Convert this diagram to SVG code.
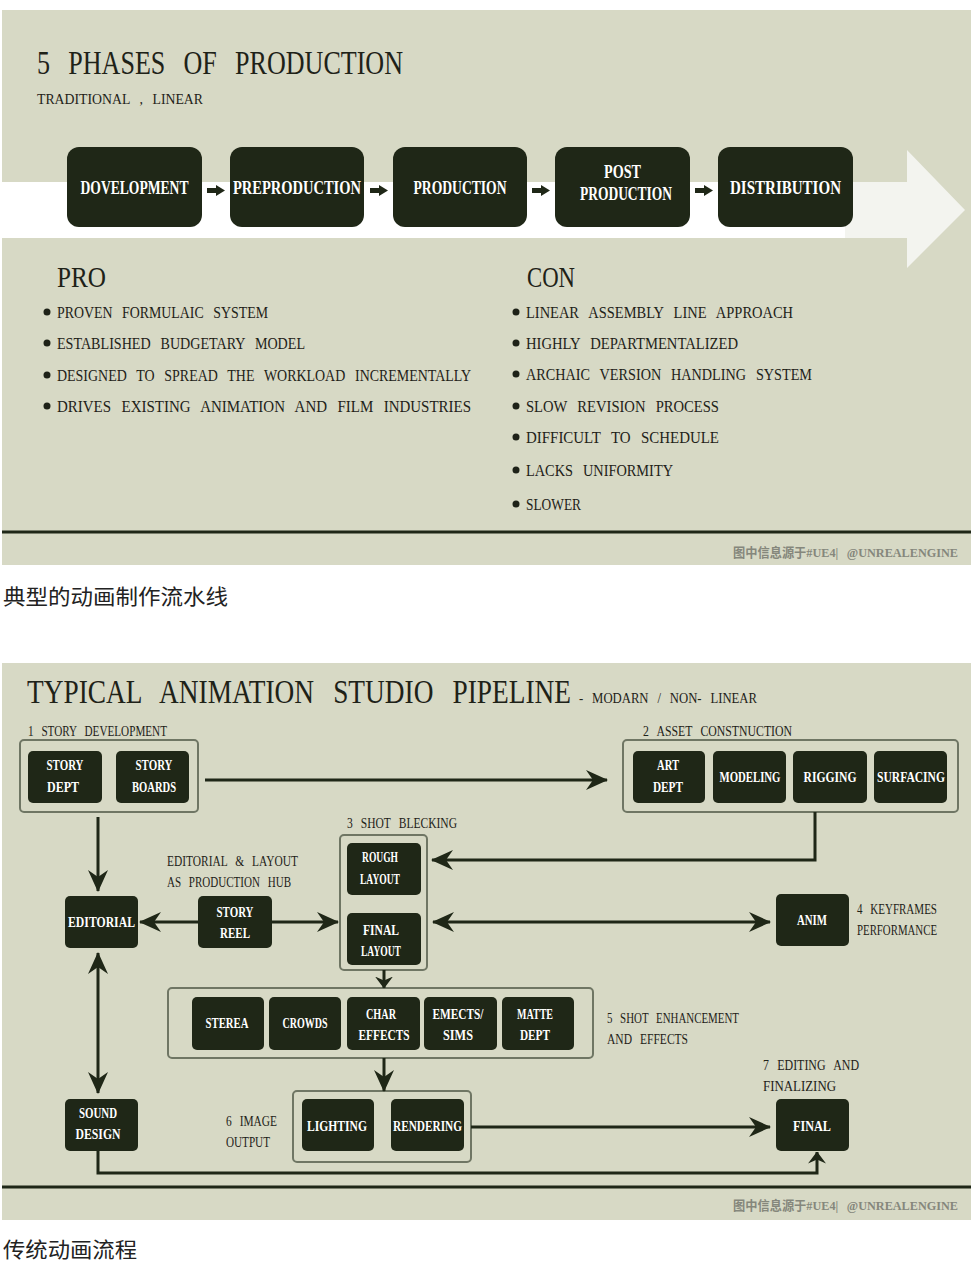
<svg xmlns="http://www.w3.org/2000/svg" width="979" height="1277" viewBox="0 0 979 1277">
<style>
.bg{fill:#d7d9c5}
.box rect{fill:#1f2717}
.nt{fill:#ffffff;font-family:"Liberation Serif","DejaVu Serif",serif;font-weight:bold;text-anchor:middle}
.t1{font-size:19px}
.t2{font-size:15px}
.lbl{fill:#1e2218;font-family:"Liberation Serif","DejaVu Serif",serif;font-size:14px;word-spacing:0.45em}
.item{fill:#1e2218;font-family:"Liberation Serif","DejaVu Serif",serif;font-size:16px;word-spacing:0.45em}
.hd{fill:#1e2218;font-family:"Liberation Serif","DejaVu Serif",serif;font-size:30px}
.title{fill:#1e2218;font-family:"Liberation Serif","DejaVu Serif",serif;font-size:34px;word-spacing:0.45em}
.grp{fill:none;stroke:#6f7664;stroke-width:2}
.conn path{fill:none;stroke:#1f2717;stroke-width:3}
.foot{fill:#85877c;font-family:"Liberation Serif","Noto Sans CJK SC",serif;font-size:13px;font-weight:bold;word-spacing:0.45em}
.cap{fill:#222222;font-family:"Noto Sans CJK SC","Noto Sans",sans-serif;font-size:21px}
.sep{stroke:#1f2717;stroke-width:3}
.dot{fill:#1e2218}
.sa{fill:#1f2717}
</style>
<defs>
<marker id="ah" markerUnits="userSpaceOnUse" markerWidth="22" markerHeight="20" viewBox="0 0 22 20" refX="21" refY="10" orient="auto-start-reverse">
<path d="M0,0 L22,10 L0,20 L7,10 z" fill="#1f2717"/>
</marker>
<marker id="as" markerUnits="userSpaceOnUse" markerWidth="12" markerHeight="18" viewBox="0 0 12 18" refX="11.5" refY="9" orient="auto-start-reverse">
<path d="M0,0 L12,9 L0,18 L4,9 z" fill="#1f2717"/>
</marker>
</defs>
<rect width="979" height="1277" fill="#ffffff"/>

<!-- ===== Top panel ===== -->
<rect class="bg" x="2" y="10" width="969" height="555"/>
<text class="title" x="37" y="74" textLength="366" lengthAdjust="spacingAndGlyphs">5 PHASES OF PRODUCTION</text>
<text class="lbl" x="37" y="104" style="font-size:15px" textLength="166" lengthAdjust="spacingAndGlyphs">TRADITIONAL , LINEAR</text>

<g id="band">
<rect x="2" y="182" width="845" height="56" fill="#ffffff"/>
<polygon points="845,182 907,182 907,150 965,210 907,268 907,238 845,238" fill="#f3f4ef"/>
</g>

<g id="phase-arrows">
<path class="sa" d="M207,188 H216 V185 L225,190.5 L216,196 V193 H207 Z"/>
<path class="sa" d="M370,188 H379 V185 L388,190.5 L379,196 V193 H370 Z"/>
<path class="sa" d="M532,188 H541 V185 L550,190.5 L541,196 V193 H532 Z"/>
<path class="sa" d="M695,188 H704 V185 L713,190.5 L704,196 V193 H695 Z"/>
</g>

<g id="p-development" class="box"><rect x="67" y="147" width="135" height="80" rx="12"/>
<text class="nt t1" x="134.5" y="194" textLength="108" lengthAdjust="spacingAndGlyphs">DOVELOPMENT</text></g>
<g id="p-preproduction" class="box"><rect x="230" y="147" width="134" height="80" rx="12"/>
<text class="nt t1" x="297" y="194" textLength="128" lengthAdjust="spacingAndGlyphs">PREPRODUCTION</text></g>
<g id="p-production" class="box"><rect x="393" y="147" width="134" height="80" rx="12"/>
<text class="nt t1" x="460" y="194" textLength="93" lengthAdjust="spacingAndGlyphs">PRODUCTION</text></g>
<g id="p-post" class="box"><rect x="555" y="147" width="135" height="80" rx="12"/>
<text class="nt t1" x="622.5" y="178" textLength="37" lengthAdjust="spacingAndGlyphs">POST</text>
<text class="nt t1" x="626" y="200" textLength="92" lengthAdjust="spacingAndGlyphs">PRODUCTION</text></g>
<g id="p-distribution" class="box"><rect x="718" y="147" width="135" height="80" rx="12"/>
<text class="nt t1" x="785.5" y="194" textLength="111" lengthAdjust="spacingAndGlyphs">DISTRIBUTION</text></g>

<g id="pro">
<text class="hd" x="57" y="287" textLength="49" lengthAdjust="spacingAndGlyphs">PRO</text>
<circle class="dot" cx="47" cy="312" r="3.5"/><text class="item" x="57" y="318" textLength="211" lengthAdjust="spacingAndGlyphs">PROVEN FORMULAIC SYSTEM</text>
<circle class="dot" cx="47" cy="343" r="3.5"/><text class="item" x="57" y="349" textLength="248" lengthAdjust="spacingAndGlyphs">ESTABLISHED BUDGETARY MODEL</text>
<circle class="dot" cx="47" cy="375" r="3.5"/><text class="item" x="57" y="381" textLength="414" lengthAdjust="spacingAndGlyphs">DESIGNED TO SPREAD THE WORKLOAD INCREMENTALLY</text>
<circle class="dot" cx="47" cy="406" r="3.5"/><text class="item" x="57" y="412" textLength="414" lengthAdjust="spacingAndGlyphs">DRIVES EXISTING ANIMATION AND FILM INDUSTRIES</text>
</g>

<g id="con">
<text class="hd" x="527" y="287" textLength="48" lengthAdjust="spacingAndGlyphs">CON</text>
<circle class="dot" cx="516" cy="312" r="3.5"/><text class="item" x="526" y="318" textLength="267" lengthAdjust="spacingAndGlyphs">LINEAR ASSEMBLY LINE APPROACH</text>
<circle class="dot" cx="516" cy="343" r="3.5"/><text class="item" x="526" y="349" textLength="212" lengthAdjust="spacingAndGlyphs">HIGHLY DEPARTMENTALIZED</text>
<circle class="dot" cx="516" cy="374" r="3.5"/><text class="item" x="526" y="380" textLength="286" lengthAdjust="spacingAndGlyphs">ARCHAIC VERSION HANDLING SYSTEM</text>
<circle class="dot" cx="516" cy="406" r="3.5"/><text class="item" x="526" y="412" textLength="193" lengthAdjust="spacingAndGlyphs">SLOW REVISION PROCESS</text>
<circle class="dot" cx="516" cy="437" r="3.5"/><text class="item" x="526" y="443" textLength="193" lengthAdjust="spacingAndGlyphs">DIFFICULT TO SCHEDULE</text>
<circle class="dot" cx="516" cy="470" r="3.5"/><text class="item" x="526" y="476" textLength="147" lengthAdjust="spacingAndGlyphs">LACKS UNIFORMITY</text>
<circle class="dot" cx="516" cy="504" r="3.5"/><text class="item" x="526" y="510" textLength="55" lengthAdjust="spacingAndGlyphs">SLOWER</text>
</g>

<line class="sep" x1="2" y1="532" x2="971" y2="532"/>
<text class="foot" x="733" y="557" textLength="225" lengthAdjust="spacingAndGlyphs">图中信息源于#UE4| @UNREALENGINE</text>

<text class="cap" x="3" y="604" textLength="225" lengthAdjust="spacingAndGlyphs">典型的动画制作流水线</text>

<!-- ===== Bottom panel ===== -->
<rect class="bg" x="2" y="663" width="969" height="557"/>
<text class="title" x="27" y="703" textLength="544" lengthAdjust="spacingAndGlyphs">TYPICAL ANIMATION STUDIO PIPELINE</text>
<text class="lbl" x="579" y="703" style="font-size:15px" textLength="178" lengthAdjust="spacingAndGlyphs">- MODARN / NON- LINEAR</text>

<g id="grp1">
<text class="lbl" x="28" y="736" textLength="139" lengthAdjust="spacingAndGlyphs">1 STORY DEVELOPMENT</text>
<rect class="grp" x="20" y="740" width="178" height="72" rx="4"/>
</g>
<g id="grp2">
<text class="lbl" x="643" y="736" textLength="149" lengthAdjust="spacingAndGlyphs">2 ASSET CONSTNUCTION</text>
<rect class="grp" x="623" y="740" width="335" height="72" rx="4"/>
</g>
<g id="grp3">
<text class="lbl" x="347" y="828" textLength="110" lengthAdjust="spacingAndGlyphs">3 SHOT BLECKING</text>
<rect class="grp" x="340" y="835" width="87" height="135" rx="4"/>
</g>
<g id="grp5">
<rect class="grp" x="168" y="988" width="425" height="70" rx="4"/>
<text class="lbl" x="607" y="1023" textLength="132" lengthAdjust="spacingAndGlyphs">5 SHOT ENHANCEMENT</text>
<text class="lbl" x="607" y="1044" textLength="81" lengthAdjust="spacingAndGlyphs">AND EFFECTS</text>
</g>
<g id="grp6">
<rect class="grp" x="293" y="1091" width="178" height="71" rx="4"/>
<text class="lbl" x="226" y="1126" textLength="51" lengthAdjust="spacingAndGlyphs">6 IMAGE</text>
<text class="lbl" x="226" y="1147" textLength="44" lengthAdjust="spacingAndGlyphs">OUTPUT</text>
</g>
<g id="lbl-hub">
<text class="lbl" x="167" y="866" textLength="131" lengthAdjust="spacingAndGlyphs">EDITORIAL &amp; LAYOUT</text>
<text class="lbl" x="167" y="887" textLength="124" lengthAdjust="spacingAndGlyphs">AS PRODUCTION HUB</text>
</g>
<g id="lbl4">
<text class="lbl" x="857" y="914" textLength="80" lengthAdjust="spacingAndGlyphs">4 KEYFRAMES</text>
<text class="lbl" x="857" y="935" textLength="80" lengthAdjust="spacingAndGlyphs">PERFORMANCE</text>
</g>
<g id="lbl7">
<text class="lbl" x="763" y="1070" textLength="96" lengthAdjust="spacingAndGlyphs">7 EDITING AND</text>
<text class="lbl" x="763" y="1091" textLength="73" lengthAdjust="spacingAndGlyphs">FINALIZING</text>
</g>

<g id="connectors" class="conn">
<path d="M205,780 H607" marker-end="url(#ah)"/>
<path d="M815,812 V860 H432" marker-end="url(#ah)"/>
<path d="M98,817 V891" marker-end="url(#ah)"/>
<path d="M198,922 H140" marker-end="url(#ah)"/>
<path d="M272,922 H338" marker-end="url(#ah)"/>
<path d="M433,922 H770" marker-start="url(#ah)" marker-end="url(#ah)"/>
<path d="M98,953 V1093" marker-start="url(#ah)" marker-end="url(#ah)"/>
<path d="M384,970 V988" marker-end="url(#as)"/>
<path d="M384,1058 V1091" marker-end="url(#ah)"/>
<path d="M471,1127 H770" marker-end="url(#ah)"/>
<path d="M98,1151 V1173 H817 V1152" marker-end="url(#as)"/>
</g>

<g id="n-story-dept" class="box"><rect x="28" y="751" width="74" height="52" rx="5"/>
<text class="nt t2" x="65" y="770" textLength="37" lengthAdjust="spacingAndGlyphs">STORY</text>
<text class="nt t2" x="63" y="792" textLength="32" lengthAdjust="spacingAndGlyphs">DEPT</text></g>
<g id="n-story-boards" class="box"><rect x="116" y="751" width="73" height="52" rx="5"/>
<text class="nt t2" x="154" y="770" textLength="37" lengthAdjust="spacingAndGlyphs">STORY</text>
<text class="nt t2" x="154" y="792" textLength="44" lengthAdjust="spacingAndGlyphs">BOARDS</text></g>

<g id="n-art-dept" class="box"><rect x="633" y="751" width="72" height="52" rx="5"/>
<text class="nt t2" x="668" y="770" textLength="22" lengthAdjust="spacingAndGlyphs">ART</text>
<text class="nt t2" x="668" y="792" textLength="30" lengthAdjust="spacingAndGlyphs">DEPT</text></g>
<g id="n-modeling" class="box"><rect x="713" y="751" width="73" height="52" rx="5"/>
<text class="nt t2" x="750" y="782" textLength="61" lengthAdjust="spacingAndGlyphs">MODELING</text></g>
<g id="n-rigging" class="box"><rect x="793" y="751" width="74" height="52" rx="5"/>
<text class="nt t2" x="830" y="782" textLength="53" lengthAdjust="spacingAndGlyphs">RIGGING</text></g>
<g id="n-surfacing" class="box"><rect x="874" y="751" width="73" height="52" rx="5"/>
<text class="nt t2" x="911" y="782" textLength="68" lengthAdjust="spacingAndGlyphs">SURFACING</text></g>

<g id="n-rough-layout" class="box"><rect x="347" y="843" width="74" height="52" rx="5"/>
<text class="nt t2" x="380" y="862" textLength="36" lengthAdjust="spacingAndGlyphs">ROUGH</text>
<text class="nt t2" x="380" y="884" textLength="40" lengthAdjust="spacingAndGlyphs">LAYOUT</text></g>
<g id="n-final-layout" class="box"><rect x="347" y="913" width="74" height="52" rx="5"/>
<text class="nt t2" x="381" y="935" textLength="36" lengthAdjust="spacingAndGlyphs">FINAL</text>
<text class="nt t2" x="381" y="956" textLength="40" lengthAdjust="spacingAndGlyphs">LAYOUT</text></g>

<g id="n-editorial" class="box"><rect x="65" y="896" width="73" height="52" rx="5"/>
<text class="nt t2" x="101.5" y="927" textLength="67" lengthAdjust="spacingAndGlyphs">EDITORIAL</text></g>
<g id="n-story-reel" class="box"><rect x="198" y="896" width="74" height="52" rx="5"/>
<text class="nt t2" x="235" y="917" textLength="37" lengthAdjust="spacingAndGlyphs">STORY</text>
<text class="nt t2" x="235" y="938" textLength="30" lengthAdjust="spacingAndGlyphs">REEL</text></g>
<g id="n-anim" class="box"><rect x="776" y="894" width="73" height="52" rx="5"/>
<text class="nt t2" x="812" y="925" textLength="30" lengthAdjust="spacingAndGlyphs">ANIM</text></g>

<g id="n-sterea" class="box"><rect x="192" y="997" width="72" height="53" rx="5"/>
<text class="nt t2" x="227" y="1028" textLength="43" lengthAdjust="spacingAndGlyphs">STEREA</text></g>
<g id="n-crowds" class="box"><rect x="269" y="997" width="72" height="53" rx="5"/>
<text class="nt t2" x="305" y="1028" textLength="45" lengthAdjust="spacingAndGlyphs">CROWDS</text></g>
<g id="n-char-effects" class="box"><rect x="347" y="997" width="73" height="53" rx="5"/>
<text class="nt t2" x="381" y="1019" textLength="30" lengthAdjust="spacingAndGlyphs">CHAR</text>
<text class="nt t2" x="384" y="1040" textLength="51" lengthAdjust="spacingAndGlyphs">EFFECTS</text></g>
<g id="n-emects-sims" class="box"><rect x="424" y="997" width="73" height="53" rx="5"/>
<text class="nt t2" x="458" y="1019" textLength="51" lengthAdjust="spacingAndGlyphs">EMECTS/</text>
<text class="nt t2" x="458" y="1040" textLength="30" lengthAdjust="spacingAndGlyphs">SIMS</text></g>
<g id="n-matte-dept" class="box"><rect x="502" y="997" width="72" height="53" rx="5"/>
<text class="nt t2" x="535" y="1019" textLength="36" lengthAdjust="spacingAndGlyphs">MATTE</text>
<text class="nt t2" x="535" y="1040" textLength="30" lengthAdjust="spacingAndGlyphs">DEPT</text></g>

<g id="n-sound-design" class="box"><rect x="65" y="1099" width="73" height="52" rx="5"/>
<text class="nt t2" x="98" y="1118" textLength="38" lengthAdjust="spacingAndGlyphs">SOUND</text>
<text class="nt t2" x="98" y="1139" textLength="45" lengthAdjust="spacingAndGlyphs">DESIGN</text></g>
<g id="n-lighting" class="box"><rect x="302" y="1099" width="72" height="52" rx="5"/>
<text class="nt t2" x="337" y="1131" textLength="60" lengthAdjust="spacingAndGlyphs">LIGHTING</text></g>
<g id="n-rendering" class="box"><rect x="391" y="1099" width="73" height="52" rx="5"/>
<text class="nt t2" x="427.5" y="1131" textLength="69" lengthAdjust="spacingAndGlyphs">RENDERING</text></g>
<g id="n-final" class="box"><rect x="776" y="1099" width="73" height="52" rx="5"/>
<text class="nt t2" x="812" y="1131" textLength="38" lengthAdjust="spacingAndGlyphs">FINAL</text></g>

<line class="sep" x1="2" y1="1187" x2="971" y2="1187"/>
<text class="foot" x="733" y="1210" textLength="225" lengthAdjust="spacingAndGlyphs">图中信息源于#UE4| @UNREALENGINE</text>

<text class="cap" x="3" y="1257" textLength="134" lengthAdjust="spacingAndGlyphs">传统动画流程</text>
</svg>
